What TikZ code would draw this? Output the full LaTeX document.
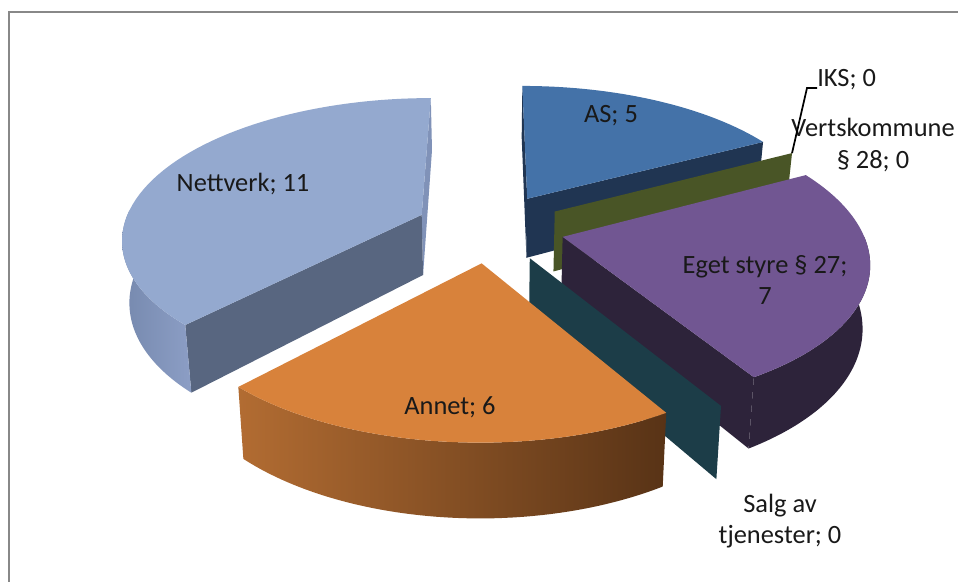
\documentclass[tikz,border=0pt]{standalone}
\usepackage{fontspec}
\setmainfont{Carlito}
\definecolor{framegray}{RGB}{136,136,136}
\definecolor{labelgray}{RGB}{25,25,25}
\definecolor{nettTop}{RGB}{148,169,207}
\definecolor{nettRad}{RGB}{88,102,128}
\definecolor{nettEdge}{RGB}{128,146,184}
\definecolor{nettSideL}{RGB}{118,137,174}
\definecolor{nettSideR}{RGB}{140,158,197}
\definecolor{asTop}{RGB}{68,114,168}
\definecolor{asRad}{RGB}{32,53,82}
\definecolor{oliveFace}{RGB}{73,85,38}
\definecolor{egetTop}{RGB}{113,86,146}
\definecolor{egetSide}{RGB}{45,35,58}
\definecolor{tealFace}{RGB}{28,61,72}
\definecolor{annetTop}{RGB}{216,130,59}
\definecolor{annetSideL}{RGB}{178,108,50}
\definecolor{annetSideR}{RGB}{88,51,22}
% top face of a slice: #1 bisector, #2 start angle, #3 end angle, #4 style
\newcommand\pietop[4]{%
  \fill[#4] plot[domain=#2:#3,samples=60,variable=\t]
    ({pjx(0.25*sin(#1)+sin(\t),0.25*cos(#1)+cos(\t))},{pjy(0.25*sin(#1)+sin(\t),0.25*cos(#1)+cos(\t))})
    -- ({pjx(0.25*sin(#1),0.25*cos(#1))},{pjy(0.25*sin(#1),0.25*cos(#1))}) -- cycle;}
% outer curved side: #1 bisector, #2 from, #3 to, #4 style
\newcommand\pieside[4]{%
  \fill[#4] plot[domain=#2:#3,samples=50,variable=\t]
    ({pjx(0.25*sin(#1)+sin(\t),0.25*cos(#1)+cos(\t))},{pjy(0.25*sin(#1)+sin(\t),0.25*cos(#1)+cos(\t))})
    -- plot[domain=#3:#2,samples=50,variable=\t]
    ({pjbx(0.25*sin(#1)+sin(\t),0.25*cos(#1)+cos(\t))},{pjby(0.25*sin(#1)+sin(\t),0.25*cos(#1)+cos(\t))})
    -- cycle;}
\newcommand\pieshadeside[5]{%
  \shade[left color=#4,right color=#5] plot[domain=#2:#3,samples=50,variable=\t]
    ({pjx(0.25*sin(#1)+sin(\t),0.25*cos(#1)+cos(\t))},{pjy(0.25*sin(#1)+sin(\t),0.25*cos(#1)+cos(\t))})
    -- plot[domain=#3:#2,samples=50,variable=\t]
    ({pjbx(0.25*sin(#1)+sin(\t),0.25*cos(#1)+cos(\t))},{pjby(0.25*sin(#1)+sin(\t),0.25*cos(#1)+cos(\t))})
    -- cycle;}
% radial face: #1 bisector, #2 angle, #3 style
\newcommand\radface[3]{%
  \fill[#3] ({pjx(0.25*sin(#1),0.25*cos(#1))},{pjy(0.25*sin(#1),0.25*cos(#1))})
    -- ({pjx(0.25*sin(#1)+sin(#2),0.25*cos(#1)+cos(#2))},{pjy(0.25*sin(#1)+sin(#2),0.25*cos(#1)+cos(#2))})
    -- ({pjbx(0.25*sin(#1)+sin(#2),0.25*cos(#1)+cos(#2))},{pjby(0.25*sin(#1)+sin(#2),0.25*cos(#1)+cos(#2))})
    -- ({pjbx(0.25*sin(#1),0.25*cos(#1))},{pjby(0.25*sin(#1),0.25*cos(#1))}) -- cycle;}
\begin{document}
\begin{tikzpicture}[x=0.75pt,y=-0.75pt,
  declare function={
    pjx(\uu,\vv)=490+298.5*\uu/(1+\vv/6.4);
    pjy(\uu,\vv)=227.5-138.7*\vv/(1+\vv/6.4);
    pjbx(\uu,\vv)=490+0.98*298.5*\uu/(1+\vv/6.4);
    pjby(\uu,\vv)=227.5-138.7*\vv/(1+\vv/6.4)+61/(1+\vv/6.4);
  },
  lbl/.style={font=\fontsize{19.8}{23.5}\selectfont, text=labelgray, align=center, inner sep=0pt},
  leader/.style={draw=black, line width=1.3pt}
]
\useasboundingbox (0,0) rectangle (958,582);
\fill[white] (0,0) rectangle (958,582);
\draw[framegray, line width=1.5pt] (9,582) -- (9,12) -- (958,12);

% Nettverk (223.45 - 360)
\radface{291.72}{360}{nettEdge}
\radface{291.72}{223.45}{nettRad}
\pieshadeside{291.72}{223.45}{272}{nettSideL}{nettSideR}
\pietop{291.72}{223.45}{360}{nettTop}

% AS (0 - 62.07)
\radface{31.03}{0}{asRad}
\radface{31.03}{62.07}{asRad}
\pietop{31.03}{0}{62.07}{asTop}

% IKS / Vertskommune (zero slices at 62.07)
\radface{62.07}{62.07}{oliveFace}
\coordinate (ikstip) at ({pjx(0.25*sin(62.07)+sin(62.07),0.25*cos(62.07)+cos(62.07))},{pjy(0.25*sin(62.07)+sin(62.07),0.25*cos(62.07)+cos(62.07))});

% Eget styre (62.07 - 148.97)
\radface{105.52}{148.97}{egetSide}
\pieside{105.52}{90}{148.97}{egetSide}
\pietop{105.52}{62.07}{148.97}{egetTop}

% Salg av tjenester (zero slice at 148.97)
\radface{148.97}{148.97}{tealFace}

% Annet (148.97 - 223.45)
\pieshadeside{186.21}{148.97}{223.45}{annetSideL}{annetSideR}
\pietop{186.21}{148.97}{223.45}{annetTop}

% labels
\node[lbl] (as) at (611,116) {AS; 5};
\node[lbl] (nett) at (243,184) {Nettverk; 11};
\node[lbl] (eget) at (765,280) {Eget styre § 27;\\7};
\node[lbl] (annet) at (450,407) {Annet; 6};
\node[lbl] (salg) at (780,521) {Salg av\\tjenester; 0};
\node[lbl, anchor=west] (iks) at (817,80) {IKS; 0};
\node[lbl] (verts) at (873,145) {Vertskommune\\§ 28; 0};

\coordinate (iksbend) at (807,88);
\draw[leader] (ikstip) -- (iksbend) -- (iksbend -| iks.west);
\end{tikzpicture}
\end{document}
